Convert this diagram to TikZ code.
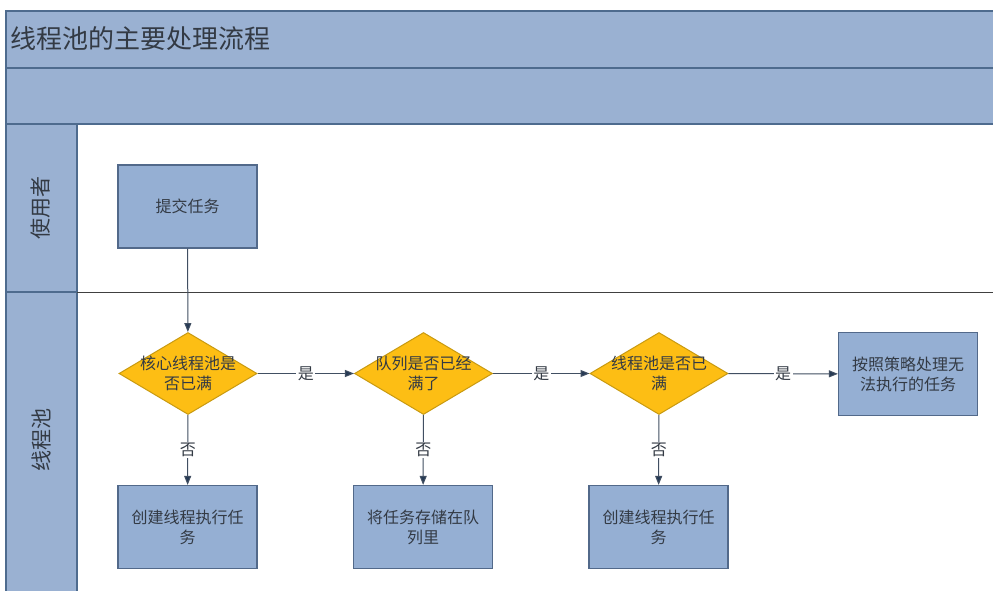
\documentclass[tikz,border=0pt]{standalone}
\usepackage{fontspec}
\setmainfont{Noto Sans CJK SC}
\usetikzlibrary{shapes.geometric,arrows.meta}
\definecolor{bandblue}{HTML}{9AB1D2}
\definecolor{bandline}{HTML}{4E6B8E}
\definecolor{boxblue}{HTML}{95AFD3}
\definecolor{boxline}{HTML}{52698A}
\definecolor{diafill}{HTML}{FDBE14}
\definecolor{dialine}{HTML}{C99A10}
\definecolor{arrowc}{HTML}{263A55}
\definecolor{txt}{HTML}{333A44}
\tikzset{
  procbox/.style={draw=boxline, line width=1.2pt, fill=boxblue, minimum width=139pt, minimum height=83pt, align=center, font=\fontsize{16pt}{20pt}\selectfont, text=txt, inner sep=2pt},
  dtext/.style={align=center, font=\fontsize{16pt}{20pt}\selectfont, text=txt, inner sep=0pt},
  decision/.style={diamond, draw=dialine, line width=1pt, fill=diafill, minimum width=138pt, minimum height=82pt, inner sep=0pt, label={[dtext]center:{#1}}},
  flow/.style={draw=arrowc!70!gray, line width=1pt, -{Triangle[length=9pt,width=7pt,fill=arrowc]}},
  lbl/.style={fill=white, inner sep=1.5pt, font=\fontsize{16pt}{18pt}\selectfont, text=txt},
  band/.style={fill=bandblue, draw=bandline, line width=1.5pt},
  lanetext/.style={rotate=90, font=\fontsize{21pt}{23pt}\selectfont, text=txt}
}
\begin{document}
\begin{tikzpicture}[x=1pt,y=-1pt]
\useasboundingbox (0,0) rectangle (993,591);
% bands
\fill[white] (0,0) rectangle (993,591);
\draw[band] (6,11) rectangle (996,68);
\draw[band] (6,68) rectangle (996,124);
\draw[band] (6,124) rectangle (77,594);
\draw[bandline, line width=1.5pt] (6,292) -- (77,292);
\draw[black!75, line width=1pt] (77,292) -- (996,292);
\node[anchor=west, font=\fontsize{26pt}{28pt}\selectfont, text=txt, inner sep=0pt] (title) at (10,39) {线程池的主要处理流程};
\node[lanetext] (lane1) at (41,208) {使用者};
\node[lanetext] (lane2) at (41,440) {线程池};
% nodes
\node[procbox] (submit) at (187.5,206.5) {提交任务};
\node[decision={核心线程池是\\否已满}] (d1) at (188,373.5) {};
\node[decision={队列是否已经\\满了}] (d2) at (423.5,373.5) {};
\node[decision={线程池是否已\\满}] (d3) at (659,373.5) {};
\node[procbox] (reject) at (908,374) {按照策略处理无\\法执行的任务};
\node[procbox] (c1) at (187.5,527) {创建线程执行任\\务};
\node[procbox] (c2) at (423,527) {将任务存储在队\\列里};
\node[procbox] (c3) at (658.5,527) {创建线程执行任\\务};
% connectors
\draw[flow] (submit) -- (d1);
\draw[flow] (d1) -- node[lbl] {是} (d2);
\draw[flow] (d2) -- node[lbl] {是} (d3);
\draw[flow] (d3) -- node[lbl, pos=0.5] {是} (reject);
\draw[flow] (d1) -- node[lbl, pos=0.5] {否} (c1);
\draw[flow] (d2) -- node[lbl, pos=0.5] {否} (c2);
\draw[flow] (d3) -- node[lbl, pos=0.5] {否} (c3);
\end{tikzpicture}
\end{document}
